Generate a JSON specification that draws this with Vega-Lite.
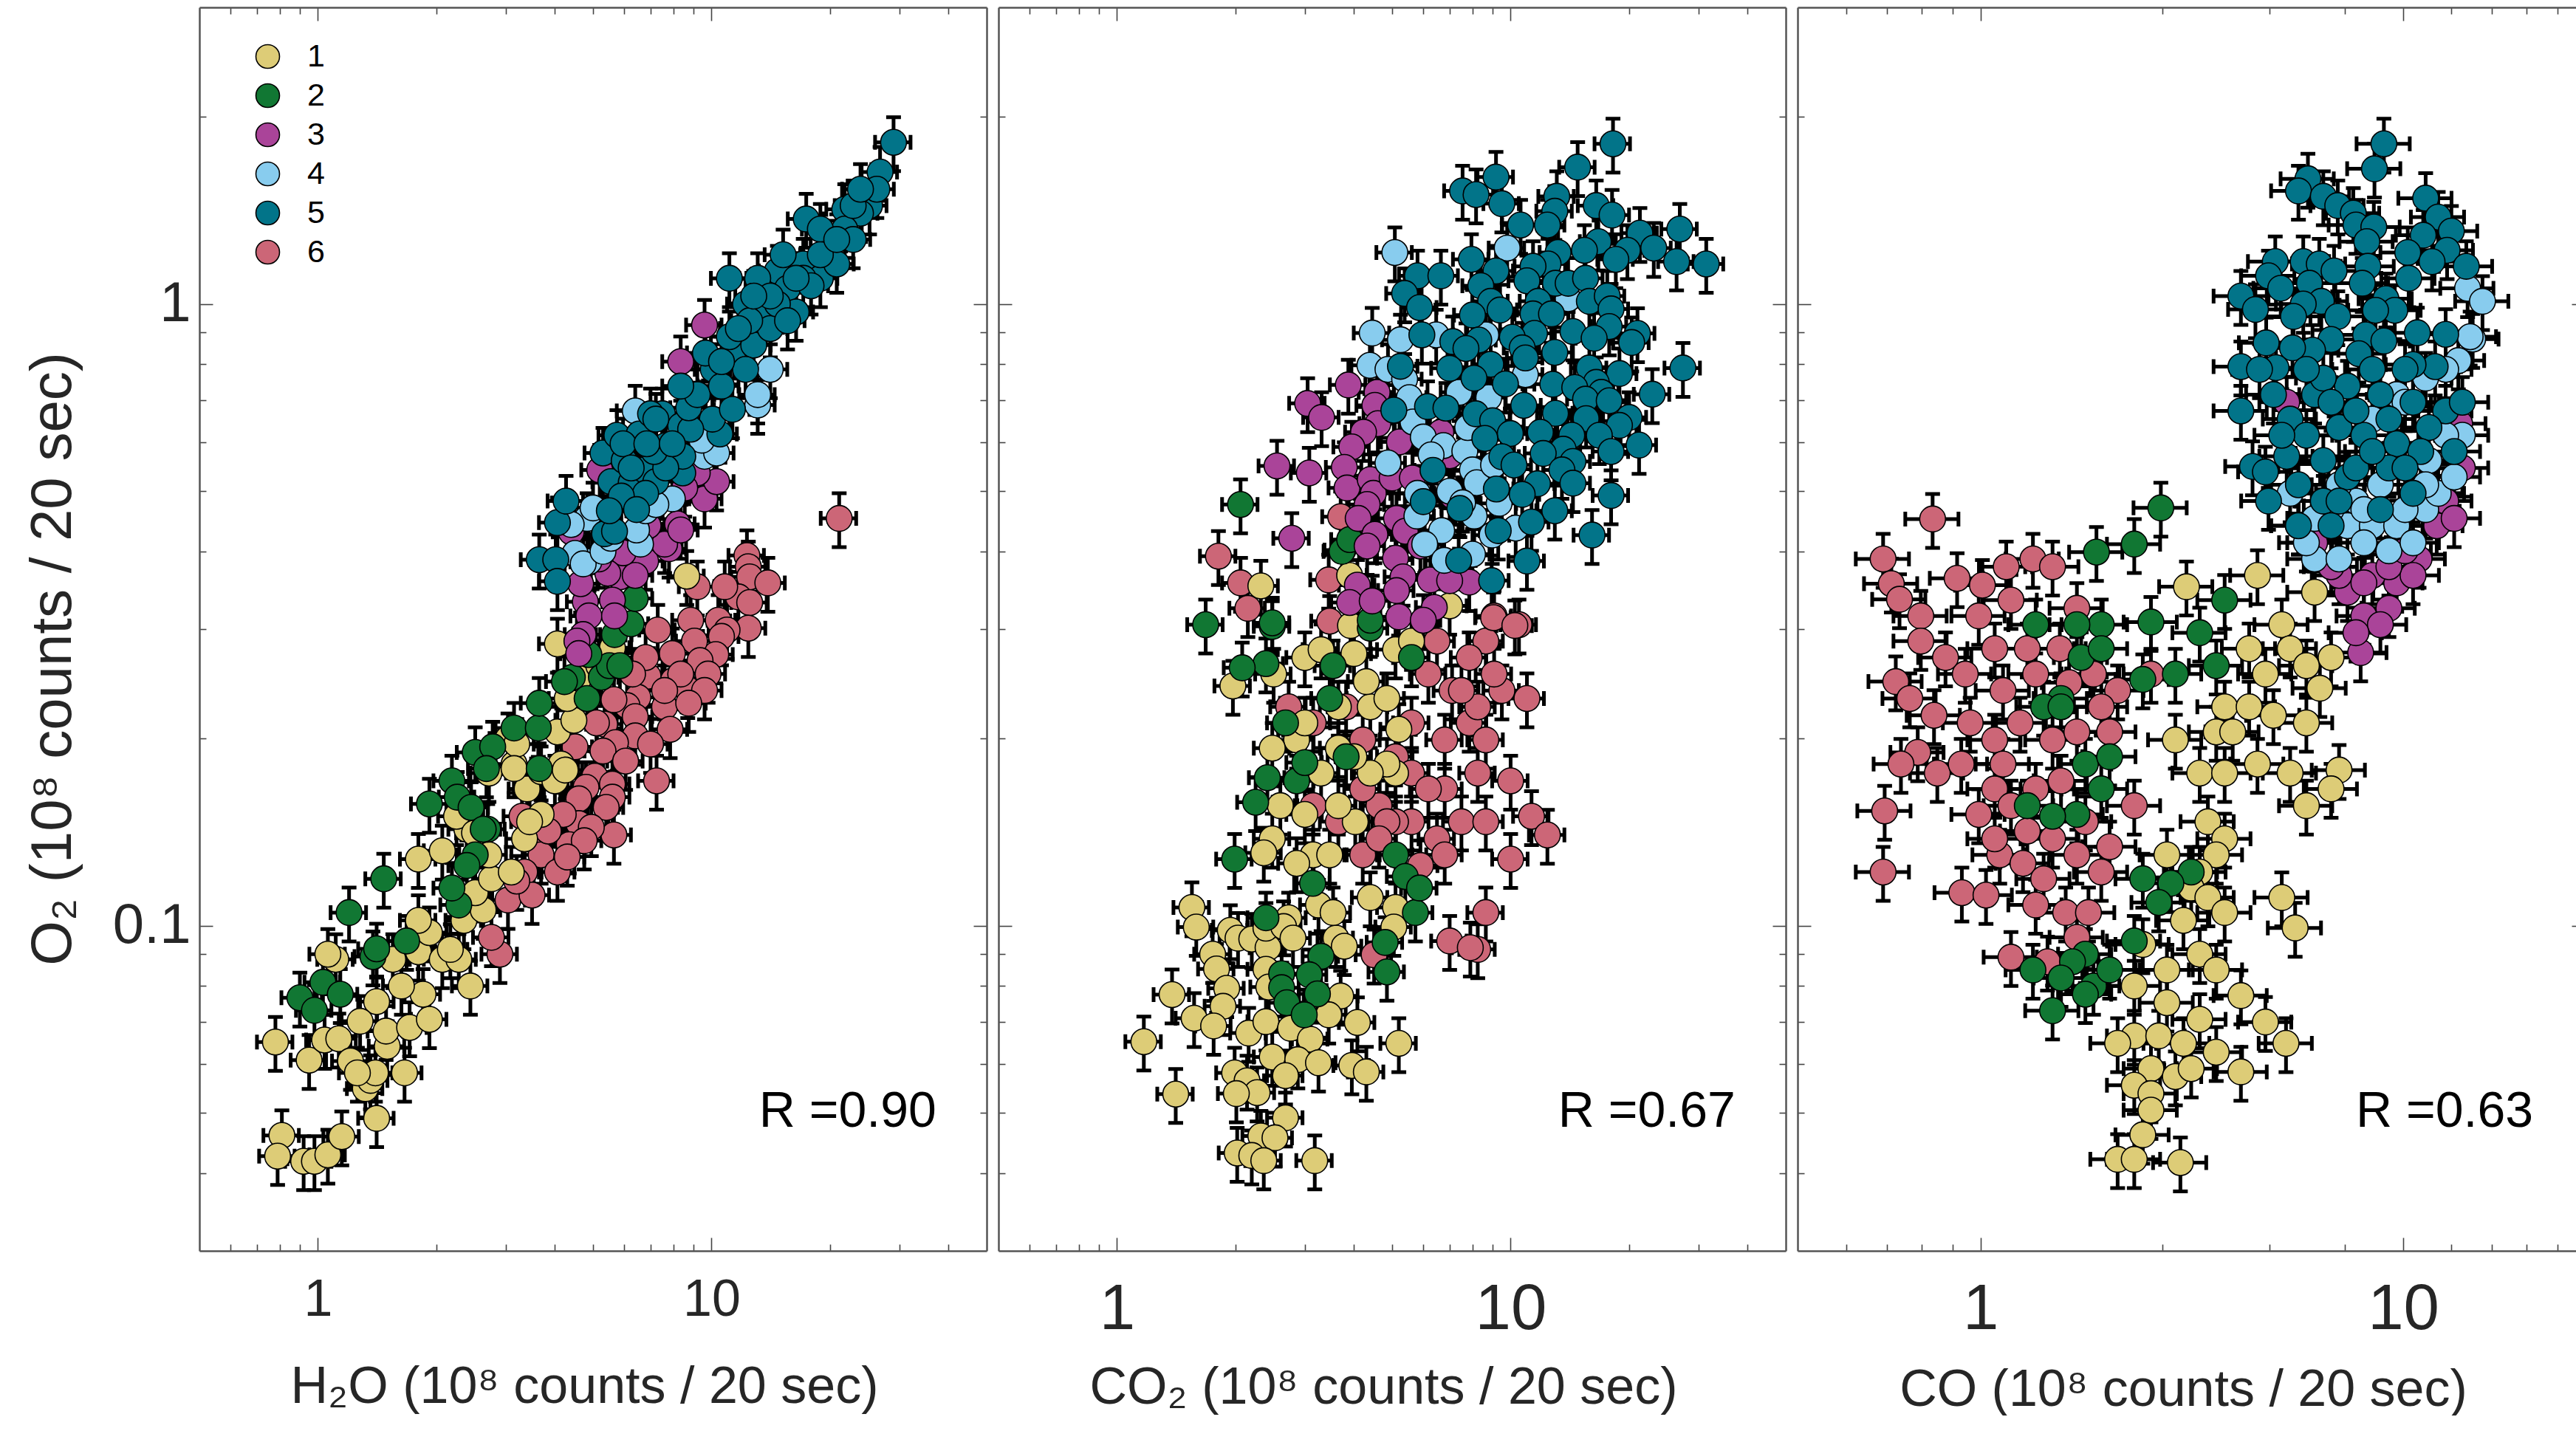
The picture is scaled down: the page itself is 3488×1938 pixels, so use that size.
{
"$schema":"https://vega.github.io/schema/vega-lite/v6.json",
"background":"white",
"padding":{"left":33,"top":9,"right":0,"bottom":0},
"bounds":"flush",
"spacing":16,
"resolve":{"scale":{"fill":"independent","x":"independent"},"legend":{"fill":"independent"}},
"config":{"view":{"stroke":null},"axis":{"grid":false,"domainColor":"#555555","domainWidth":2.5,"tickColor":"#444444","tickWidth":1.6,"labelFont":"Liberation Sans","titleFont":"Liberation Sans","labelColor":"#262626","titleColor":"#262626","titleFontWeight":"normal","labelOverlap":false,"labelBound":false,"labelFlush":false},"text":{"font":"Liberation Sans"}},
"datasets":{
"r1":[{"label":"R =0.90","x":13.2,"y":0.0475}],
"r2":[{"label":"R =0.67","x":13.2,"y":0.0475}],
"r3":[{"label":"R =0.63","x":7.73,"y":0.0475}],
"p1":[
{"g":6,"x":9.2,"y":0.351},{"g":6,"x":21.1,"y":0.452},{"g":6,"x":12.3,"y":0.394},{"g":6,"x":12.4,"y":0.378},{"g":6,"x":12.5,"y":0.364},{"g":6,"x":13.9,"y":0.356},{"g":6,"x":11.7,"y":0.338},{"g":6,"x":10.8,"y":0.351},{"g":6,"x":12.5,"y":0.331},{"g":6,"x":10.4,"y":0.31},{"g":6,"x":12.4,"y":0.301},{"g":6,"x":10.95,"y":0.299},{"g":6,"x":10.6,"y":0.292},{"g":6,"x":10.25,"y":0.273},{"g":6,"x":8.85,"y":0.31},{"g":6,"x":7.3,"y":0.299},{"g":6,"x":9.05,"y":0.287},{"g":6,"x":7.95,"y":0.274},{"g":6,"x":9.35,"y":0.267},{"g":6,"x":9.8,"y":0.254},{"g":6,"x":6.9,"y":0.252},{"g":6,"x":8,"y":0.248},{"g":6,"x":8.7,"y":0.24},{"g":6,"x":9.6,"y":0.239},{"g":6,"x":6.5,"y":0.233},{"g":6,"x":6.1,"y":0.226},{"g":6,"x":7.6,"y":0.225},{"g":6,"x":8.75,"y":0.228},{"g":6,"x":6.4,"y":0.217},{"g":6,"x":5.35,"y":0.211},{"g":6,"x":7.85,"y":0.207},{"g":6,"x":6.4,"y":0.202},{"g":6,"x":7,"y":0.196},{"g":6,"x":5.7,"y":0.197},{"g":6,"x":5.3,"y":0.191},{"g":6,"x":4.5,"y":0.194},{"g":6,"x":6.05,"y":0.184},{"g":6,"x":5.05,"y":0.174},{"g":6,"x":5.6,"y":0.169},{"g":6,"x":7.25,"y":0.171},{"g":6,"x":4.8,"y":0.167},{"g":6,"x":5.6,"y":0.161},{"g":6,"x":4.6,"y":0.16},{"g":6,"x":5.4,"y":0.155},{"g":6,"x":4.6,"y":0.146},{"g":6,"x":5.65,"y":0.14},{"g":6,"x":4.95,"y":0.144},{"g":6,"x":4.35,"y":0.135},{"g":6,"x":3.3,"y":0.15},{"g":6,"x":3.6,"y":0.139},{"g":6,"x":4.2,"y":0.151},{"g":6,"x":3.69,"y":0.13},{"g":6,"x":3.35,"y":0.122},{"g":6,"x":4.06,"y":0.122},{"g":6,"x":3.04,"y":0.11},{"g":6,"x":3.5,"y":0.112},{"g":6,"x":2.9,"y":0.09},{"g":6,"x":3.2,"y":0.118},{"g":6,"x":2.76,"y":0.0958},{"g":6,"x":3.85,"y":0.142},{"g":6,"x":4.75,"y":0.137},{"g":6,"x":4.3,"y":0.129},{"g":6,"x":6.8,"y":0.27},{"g":6,"x":6.3,"y":0.254},{"g":6,"x":5.65,"y":0.231},{"g":6,"x":5.1,"y":0.212},{"g":6,"x":8.35,"y":0.254},{"g":6,"x":7.6,"y":0.239},
{"g":1,"x":0.81,"y":0.046},{"g":1,"x":0.79,"y":0.0426},{"g":1,"x":0.92,"y":0.0418},{"g":1,"x":0.98,"y":0.0418},{"g":1,"x":1.06,"y":0.0428},{"g":1,"x":1.15,"y":0.0458},{"g":1,"x":1.41,"y":0.049},{"g":1,"x":1.32,"y":0.0547},{"g":1,"x":1.36,"y":0.0564},{"g":1,"x":1.4,"y":0.058},{"g":1,"x":1.5,"y":0.064},{"g":1,"x":1.66,"y":0.058},{"g":1,"x":0.95,"y":0.0608},{"g":1,"x":0.78,"y":0.065},{"g":1,"x":1.04,"y":0.0655},{"g":1,"x":1.13,"y":0.0658},{"g":1,"x":1.21,"y":0.0606},{"g":1,"x":1.26,"y":0.058},{"g":1,"x":1.49,"y":0.0677},{"g":1,"x":1.71,"y":0.0686},{"g":1,"x":1.92,"y":0.0707},{"g":1,"x":1.85,"y":0.0776},{"g":1,"x":1.63,"y":0.08},{"g":1,"x":1.41,"y":0.0755},{"g":1,"x":1.28,"y":0.0702},{"g":1,"x":1.11,"y":0.0883},{"g":1,"x":1.06,"y":0.09},{"g":1,"x":1.55,"y":0.0883},{"g":1,"x":1.8,"y":0.0908},{"g":1,"x":2.07,"y":0.0883},{"g":1,"x":2.28,"y":0.0883},{"g":1,"x":2.44,"y":0.08},{"g":1,"x":2.17,"y":0.0916},{"g":1,"x":1.92,"y":0.0975},{"g":1,"x":1.8,"y":0.102},{"g":1,"x":2.35,"y":0.102},{"g":1,"x":2.63,"y":0.106},{"g":1,"x":2.51,"y":0.113},{"g":1,"x":1.8,"y":0.128},{"g":1,"x":2.07,"y":0.132},{"g":1,"x":2.76,"y":0.119},{"g":1,"x":3.1,"y":0.122},{"g":1,"x":2.72,"y":0.13},{"g":1,"x":2.39,"y":0.143},{"g":1,"x":3.35,"y":0.138},{"g":1,"x":3.69,"y":0.151},{"g":1,"x":3.4,"y":0.166},{"g":1,"x":3.15,"y":0.182},{"g":1,"x":3.69,"y":0.177},{"g":1,"x":4.15,"y":0.182},{"g":1,"x":4.06,"y":0.205},{"g":1,"x":4.47,"y":0.214},{"g":1,"x":4.3,"y":0.232},{"g":1,"x":4.6,"y":0.25},{"g":1,"x":5.17,"y":0.262},{"g":1,"x":5.6,"y":0.28},{"g":1,"x":4.06,"y":0.284},{"g":1,"x":8.65,"y":0.365},{"g":1,"x":3.04,"y":0.2},{"g":1,"x":2.72,"y":0.176},{"g":1,"x":3.2,"y":0.196},{"g":1,"x":3.15,"y":0.179},{"g":1,"x":4.0,"y":0.171},{"g":1,"x":4.25,"y":0.178},{"g":1,"x":2.25,"y":0.15},{"g":1,"x":2.5,"y":0.141},{"g":1,"x":3.45,"y":0.147},
{"g":2,"x":1.2,"y":0.105},{"g":2,"x":1.47,"y":0.119},{"g":2,"x":0.9,"y":0.0766},{"g":2,"x":0.98,"y":0.0731},{"g":2,"x":1.03,"y":0.0811},{"g":2,"x":1.14,"y":0.0776},{"g":2,"x":1.38,"y":0.0892},{"g":2,"x":1.41,"y":0.0918},{"g":2,"x":1.68,"y":0.0945},{"g":2,"x":2.19,"y":0.171},{"g":2,"x":2.26,"y":0.161},{"g":2,"x":2.45,"y":0.155},{"g":2,"x":2.7,"y":0.143},{"g":2,"x":2.51,"y":0.19},{"g":2,"x":2.78,"y":0.194},{"g":2,"x":2.68,"y":0.179},{"g":2,"x":1.92,"y":0.157},{"g":2,"x":3.15,"y":0.208},{"g":2,"x":3.63,"y":0.208},{"g":2,"x":3.65,"y":0.228},{"g":2,"x":3.65,"y":0.179},{"g":2,"x":4.43,"y":0.251},{"g":2,"x":4.23,"y":0.247},{"g":2,"x":4.83,"y":0.232},{"g":2,"x":5.25,"y":0.251},{"g":2,"x":5.5,"y":0.262},{"g":2,"x":5.85,"y":0.262},{"g":2,"x":4.88,"y":0.273},{"g":2,"x":5.67,"y":0.294},{"g":2,"x":6.25,"y":0.306},{"g":2,"x":6.4,"y":0.336},{"g":2,"x":2.28,"y":0.108},{"g":2,"x":2.19,"y":0.115},{"g":2,"x":2.51,"y":0.13},{"g":2,"x":2.39,"y":0.125},{"g":2,"x":2.63,"y":0.143},
{"g":3,"x":5.85,"y":0.364},{"g":3,"x":4.78,"y":0.332},{"g":3,"x":5.6,"y":0.334},{"g":3,"x":4.88,"y":0.315},{"g":3,"x":5.67,"y":0.315},{"g":3,"x":4.72,"y":0.294},{"g":3,"x":4.55,"y":0.287},{"g":3,"x":4.6,"y":0.274},{"g":3,"x":4.65,"y":0.355},{"g":3,"x":6.8,"y":0.386},{"g":3,"x":7.8,"y":0.404},{"g":3,"x":7.6,"y":0.411},{"g":3,"x":8.2,"y":0.443},{"g":3,"x":8.35,"y":0.433},{"g":3,"x":9.6,"y":0.486},{"g":3,"x":10.3,"y":0.518},{"g":3,"x":5.2,"y":0.541},{"g":3,"x":6.4,"y":0.366},{"g":3,"x":5.96,"y":0.398},{"g":3,"x":5.45,"y":0.369},{"g":3,"x":4.4,"y":0.43},{"g":3,"x":9.2,"y":0.535},{"g":3,"x":8.55,"y":0.506},{"g":3,"x":9.6,"y":0.925},{"g":3,"x":8.35,"y":0.808},{"g":3,"x":5.17,"y":0.389},{"g":3,"x":6.9,"y":0.44},
{"g":4,"x":4.88,"y":0.385},{"g":4,"x":4.5,"y":0.397},{"g":4,"x":4.72,"y":0.382},{"g":4,"x":5.3,"y":0.4},{"g":4,"x":6.6,"y":0.411},{"g":4,"x":6.45,"y":0.433},{"g":4,"x":4.83,"y":0.452},{"g":4,"x":4.4,"y":0.442},{"g":4,"x":7.95,"y":0.486},{"g":4,"x":5,"y":0.47},{"g":4,"x":5.55,"y":0.42},{"g":4,"x":9.6,"y":0.569},{"g":4,"x":10.3,"y":0.576},{"g":4,"x":9.45,"y":0.604},{"g":4,"x":13.1,"y":0.688},{"g":4,"x":6.8,"y":0.465},{"g":4,"x":7.22,"y":0.476},{"g":4,"x":6.4,"y":0.673},{"g":4,"x":14.1,"y":0.785},{"g":4,"x":13.1,"y":0.715},
{"g":5,"x":3.65,"y":0.388},{"g":5,"x":4.02,"y":0.388},{"g":5,"x":4.06,"y":0.358},{"g":5,"x":4.06,"y":0.445},{"g":5,"x":4.27,"y":0.482},{"g":5,"x":5.35,"y":0.427},{"g":5,"x":5.67,"y":0.431},{"g":5,"x":5.3,"y":0.576},{"g":5,"x":5.75,"y":0.615},{"g":5,"x":6.55,"y":0.618},{"g":5,"x":7.5,"y":0.666},{"g":5,"x":5.55,"y":0.518},{"g":5,"x":6.25,"y":0.516},{"g":5,"x":6,"y":0.56},{"g":5,"x":6.75,"y":0.541},{"g":5,"x":7.65,"y":0.592},{"g":5,"x":8.35,"y":0.637},{"g":5,"x":10.5,"y":0.618},{"g":5,"x":10.05,"y":0.653},{"g":5,"x":8.45,"y":0.535},{"g":5,"x":7.22,"y":0.518},{"g":5,"x":6.8,"y":0.496},{"g":5,"x":5.9,"y":0.491},{"g":5,"x":5.5,"y":0.465},{"g":5,"x":6.45,"y":0.467},{"g":5,"x":8.85,"y":0.629},{"g":5,"x":8.45,"y":0.569},{"g":5,"x":7.65,"y":0.545},{"g":5,"x":7.15,"y":0.579},{"g":5,"x":7,"y":0.666},{"g":5,"x":8.75,"y":0.681},{"g":5,"x":11.3,"y":0.677},{"g":5,"x":11.1,"y":1.1},{"g":5,"x":17.4,"y":1.37},{"g":5,"x":21.8,"y":1.42},{"g":5,"x":25.2,"y":1.44},{"g":5,"x":29,"y":1.82},{"g":5,"x":26.8,"y":1.63},{"g":5,"x":26.3,"y":1.53},{"g":5,"x":23.9,"y":1.4},{"g":5,"x":19.9,"y":1.24},{"g":5,"x":17.1,"y":1.16},{"g":5,"x":14.7,"y":1.13},{"g":5,"x":12.2,"y":1},{"g":5,"x":13.3,"y":0.971},{"g":5,"x":15.6,"y":1.06},{"g":5,"x":18.9,"y":1.1},{"g":5,"x":20.8,"y":1.16},{"g":5,"x":11.4,"y":0.844},{"g":5,"x":10.1,"y":0.785},{"g":5,"x":12.8,"y":0.859},{"g":5,"x":14.1,"y":0.913},{"g":5,"x":16.4,"y":0.971},{"g":5,"x":11.1,"y":0.886},{"g":5,"x":9.2,"y":0.715},{"g":5,"x":10.6,"y":0.738},{"g":5,"x":12.2,"y":0.785},{"g":5,"x":21.8,"y":1.32},{"g":5,"x":22.9,"y":1.27},{"g":5,"x":18.9,"y":1.32},{"g":5,"x":17.1,"y":1.1},{"g":5,"x":15.2,"y":1.2},{"g":5,"x":13.1,"y":1.1},{"g":5,"x":14.7,"y":1},{"g":5,"x":17.9,"y":1.07},{"g":5,"x":12.5,"y":0.94},{"g":5,"x":9.65,"y":0.834},{"g":5,"x":8.35,"y":0.738},{"g":5,"x":7.22,"y":0.653},{"g":5,"x":14.1,"y":1.03},{"g":5,"x":16.4,"y":1.1},{"g":5,"x":18.9,"y":1.2},{"g":5,"x":20.8,"y":1.27},{"g":5,"x":11.7,"y":0.913},{"g":5,"x":12.8,"y":1.03},{"g":5,"x":15.6,"y":0.94},{"g":5,"x":10.6,"y":0.808},{"g":5,"x":22.9,"y":1.44},{"g":5,"x":23.9,"y":1.53},{"g":5,"x":5.96,"y":0.596},{"g":5,"x":6.85,"y":0.596},{"g":5,"x":7.95,"y":0.596},{"g":5,"x":6.25,"y":0.545}
],
"p2":[
{"g":6,"x":1.81,"y":0.393},{"g":6,"x":2.06,"y":0.356},{"g":6,"x":2.15,"y":0.324},{"g":6,"x":2.73,"y":0.225},{"g":6,"x":3.15,"y":0.212},{"g":6,"x":3.82,"y":0.225},{"g":6,"x":4.21,"y":0.199},{"g":6,"x":3.15,"y":0.156},{"g":6,"x":3.65,"y":0.147},{"g":6,"x":4.63,"y":0.156},{"g":6,"x":5.6,"y":0.147},{"g":6,"x":6.8,"y":0.166},{"g":6,"x":8.25,"y":0.176},{"g":6,"x":7.85,"y":0.212},{"g":6,"x":9.5,"y":0.239},{"g":6,"x":8.65,"y":0.287},{"g":6,"x":10.5,"y":0.305},{"g":6,"x":9.08,"y":0.315},{"g":6,"x":7.1,"y":0.239},{"g":6,"x":11,"y":0.232},{"g":6,"x":10,"y":0.171},{"g":6,"x":11.3,"y":0.15},{"g":6,"x":12.4,"y":0.14},{"g":6,"x":10,"y":0.128},{"g":6,"x":8.65,"y":0.105},{"g":6,"x":7,"y":0.0945},{"g":6,"x":8.25,"y":0.0916},{"g":6,"x":6.18,"y":0.254},{"g":6,"x":5.1,"y":0.187},{"g":6,"x":4.21,"y":0.13},{"g":6,"x":6.5,"y":0.138},{"g":6,"x":5.6,"y":0.176},{"g":6,"x":7.85,"y":0.27},{"g":6,"x":9.08,"y":0.254},{"g":6,"x":4.21,"y":0.166},{"g":6,"x":7.9,"y":0.0922},{"g":6,"x":3.45,"y":0.36},{"g":6,"x":3.7,"y":0.455},{"g":6,"x":9.05,"y":0.313},{"g":6,"x":10.25,"y":0.304},{"g":6,"x":3.47,"y":0.309},{"g":6,"x":4.5,"y":0.0898},{"g":6,"x":5.1,"y":0.147},{"g":6,"x":6.18,"y":0.166},{"g":6,"x":7.5,"y":0.147},{"g":6,"x":5.6,"y":0.212},{"g":6,"x":6.8,"y":0.199},{"g":6,"x":8.25,"y":0.225},{"g":6,"x":6.5,"y":0.287},{"g":6,"x":4.85,"y":0.147},{"g":6,"x":6.8,"y":0.13},{"g":6,"x":5.9,"y":0.125},{"g":6,"x":4.63,"y":0.138},{"g":6,"x":8.65,"y":0.147},{"g":6,"x":7.5,"y":0.239},{"g":6,"x":8.65,"y":0.199},
{"g":1,"x":1.55,"y":0.107},{"g":1,"x":1.59,"y":0.0995},{"g":1,"x":1.94,"y":0.0983},{"g":1,"x":2.03,"y":0.0955},{"g":1,"x":2.2,"y":0.0952},{"g":1,"x":1.75,"y":0.09},{"g":1,"x":1.79,"y":0.0852},{"g":1,"x":1.9,"y":0.0793},{"g":1,"x":1.38,"y":0.0775},{"g":1,"x":2.42,"y":0.0922},{"g":1,"x":2.39,"y":0.0991},{"g":1,"x":2.73,"y":0.103},{"g":1,"x":2.65,"y":0.0997},{"g":1,"x":2.8,"y":0.0955},{"g":1,"x":3.6,"y":0.0955},{"g":1,"x":3.78,"y":0.0927},{"g":1,"x":3.25,"y":0.108},{"g":1,"x":3.54,"y":0.105},{"g":1,"x":2.39,"y":0.0851},{"g":1,"x":2.43,"y":0.0797},{"g":1,"x":3.7,"y":0.0771},{"g":1,"x":3.45,"y":0.0719},{"g":1,"x":4.08,"y":0.0699},{"g":1,"x":1.86,"y":0.0742},{"g":1,"x":1.57,"y":0.071},{"g":1,"x":1.76,"y":0.069},{"g":1,"x":2.16,"y":0.0672},{"g":1,"x":2.39,"y":0.0701},{"g":1,"x":2.76,"y":0.0684},{"g":1,"x":3.1,"y":0.0657},{"g":1,"x":1.17,"y":0.0651},{"g":1,"x":2.48,"y":0.0615},{"g":1,"x":2.88,"y":0.0609},{"g":1,"x":3.25,"y":0.0602},{"g":1,"x":5.2,"y":0.0647},{"g":1,"x":1.99,"y":0.058},{"g":1,"x":2.14,"y":0.0563},{"g":1,"x":2.27,"y":0.0539},{"g":1,"x":2.01,"y":0.0537},{"g":1,"x":2.68,"y":0.0574},{"g":1,"x":3.95,"y":0.0596},{"g":1,"x":4.3,"y":0.0582},{"g":1,"x":1.41,"y":0.0536},{"g":1,"x":2.68,"y":0.0491},{"g":1,"x":2.32,"y":0.0459},{"g":1,"x":2.52,"y":0.0456},{"g":1,"x":2.02,"y":0.0431},{"g":1,"x":2.2,"y":0.0427},{"g":1,"x":2.36,"y":0.0419},{"g":1,"x":3.18,"y":0.0419},{"g":1,"x":5.1,"y":0.107},{"g":1,"x":5.05,"y":0.0995},{"g":1,"x":2.32,"y":0.352},{"g":1,"x":3.9,"y":0.366},{"g":1,"x":7,"y":0.327},{"g":1,"x":3.92,"y":0.304},{"g":1,"x":1.97,"y":0.243},{"g":1,"x":2.5,"y":0.254},{"g":1,"x":3,"y":0.27},{"g":1,"x":3.3,"y":0.278},{"g":1,"x":4,"y":0.274},{"g":1,"x":3.65,"y":0.225},{"g":1,"x":2.86,"y":0.199},{"g":1,"x":2.6,"y":0.156},{"g":1,"x":2.48,"y":0.138},{"g":1,"x":3,"y":0.151},{"g":1,"x":3.15,"y":0.13},{"g":1,"x":2.36,"y":0.131},{"g":1,"x":2.86,"y":0.126},{"g":1,"x":3.47,"y":0.13},{"g":1,"x":4.4,"y":0.225},{"g":1,"x":5.1,"y":0.176},{"g":1,"x":4.85,"y":0.232},{"g":1,"x":5.1,"y":0.278},{"g":1,"x":5.6,"y":0.287},{"g":1,"x":4.85,"y":0.182},{"g":1,"x":4.4,"y":0.176},{"g":1,"x":3.65,"y":0.193},{"g":1,"x":4.3,"y":0.247},{"g":1,"x":2.48,"y":0.193},{"g":1,"x":5.2,"y":0.207},{"g":1,"x":4.03,"y":0.147},{"g":1,"x":4.4,"y":0.111},{"g":1,"x":3.3,"y":0.176},{"g":1,"x":4,"y":0.187},{"g":1,"x":3.65,"y":0.156},{"g":1,"x":3,"y":0.212},
{"g":2,"x":2.06,"y":0.476},{"g":2,"x":1.68,"y":0.305},{"g":2,"x":2.48,"y":0.303},{"g":2,"x":2.39,"y":0.264},{"g":2,"x":2.08,"y":0.26},{"g":2,"x":2.68,"y":0.212},{"g":2,"x":2.41,"y":0.173},{"g":2,"x":2.25,"y":0.158},{"g":2,"x":1.99,"y":0.128},{"g":2,"x":2.39,"y":0.103},{"g":2,"x":2.86,"y":0.171},{"g":2,"x":3,"y":0.183},{"g":2,"x":3.82,"y":0.187},{"g":2,"x":3.47,"y":0.232},{"g":2,"x":3.54,"y":0.262},{"g":2,"x":3.75,"y":0.402},{"g":2,"x":3.73,"y":0.4},{"g":2,"x":3.9,"y":0.418},{"g":2,"x":4.4,"y":0.301},{"g":2,"x":2.48,"y":0.307},{"g":2,"x":4.4,"y":0.31},{"g":2,"x":5.6,"y":0.27},{"g":2,"x":5.1,"y":0.13},{"g":2,"x":5.4,"y":0.12},{"g":2,"x":4.85,"y":0.0843},{"g":2,"x":4.8,"y":0.094},{"g":2,"x":3.3,"y":0.0893},{"g":2,"x":2.62,"y":0.0837},{"g":2,"x":3.08,"y":0.0834},{"g":2,"x":2.62,"y":0.0795},{"g":2,"x":3.23,"y":0.0777},{"g":2,"x":2.7,"y":0.0752},{"g":2,"x":2.99,"y":0.0719},{"g":2,"x":5.73,"y":0.105},{"g":2,"x":5.87,"y":0.115},{"g":2,"x":3.14,"y":0.117},
{"g":3,"x":2.55,"y":0.549},{"g":3,"x":3.08,"y":0.535},{"g":3,"x":3.05,"y":0.692},{"g":3,"x":3.31,"y":0.657},{"g":3,"x":3.87,"y":0.741},{"g":3,"x":4.58,"y":0.721},{"g":3,"x":4.52,"y":0.687},{"g":3,"x":4.6,"y":0.642},{"g":3,"x":4.23,"y":0.622},{"g":3,"x":3.95,"y":0.589},{"g":3,"x":3.78,"y":0.546},{"g":3,"x":3.84,"y":0.506},{"g":3,"x":4.4,"y":0.522},{"g":3,"x":4.48,"y":0.496},{"g":3,"x":4.32,"y":0.476},{"g":3,"x":4.1,"y":0.452},{"g":3,"x":4.52,"y":0.426},{"g":3,"x":4.32,"y":0.408},{"g":3,"x":2.78,"y":0.42},{"g":3,"x":5.22,"y":0.6},{"g":3,"x":5,"y":0.525},{"g":3,"x":5.63,"y":0.525},{"g":3,"x":6.65,"y":0.622},{"g":3,"x":5.13,"y":0.452},{"g":3,"x":5.4,"y":0.431},{"g":3,"x":5.9,"y":0.408},{"g":3,"x":5.1,"y":0.39},{"g":3,"x":5.33,"y":0.364},{"g":3,"x":5.13,"y":0.346},{"g":3,"x":6.25,"y":0.36},{"g":3,"x":7.85,"y":0.357},{"g":3,"x":7,"y":0.359},{"g":3,"x":4.08,"y":0.353},{"g":3,"x":3.9,"y":0.331},{"g":3,"x":4.45,"y":0.333},{"g":3,"x":6.4,"y":0.325},{"g":3,"x":5.2,"y":0.314},{"g":3,"x":6,"y":0.31},{"g":3,"x":7.13,"y":0.491},{"g":3,"x":7,"y":0.57},
{"g":4,"x":5.08,"y":1.21},{"g":4,"x":9.8,"y":1.23},{"g":4,"x":14,"y":1.02},{"g":4,"x":4.45,"y":0.898},{"g":4,"x":5.25,"y":0.876},{"g":4,"x":4.39,"y":0.797},{"g":4,"x":4.88,"y":0.785},{"g":4,"x":5.38,"y":0.757},{"g":4,"x":6.47,"y":0.892},{"g":4,"x":8.65,"y":0.892},{"g":4,"x":7.4,"y":0.721},{"g":4,"x":8.8,"y":0.707},{"g":4,"x":10.9,"y":0.77},{"g":4,"x":5.53,"y":0.707},{"g":4,"x":5.65,"y":0.646},{"g":4,"x":6,"y":0.611},{"g":4,"x":6.75,"y":0.592},{"g":4,"x":7.65,"y":0.58},{"g":4,"x":7.78,"y":0.633},{"g":4,"x":6.28,"y":0.572},{"g":4,"x":4.88,"y":0.555},{"g":4,"x":8,"y":0.541},{"g":4,"x":8.2,"y":0.516},{"g":4,"x":7,"y":0.5},{"g":4,"x":5.8,"y":0.496},{"g":4,"x":5.78,"y":0.456},{"g":4,"x":8.08,"y":0.456},{"g":4,"x":7.55,"y":0.479},{"g":4,"x":6.68,"y":0.432},{"g":4,"x":6.05,"y":0.411},{"g":4,"x":6.78,"y":0.387},{"g":4,"x":8,"y":0.396},{"g":4,"x":8.98,"y":0.425},{"g":4,"x":10.3,"y":0.436},{"g":4,"x":9.35,"y":0.478},{"g":4,"x":9.05,"y":0.551},
{"g":5,"x":18.2,"y":1.81},{"g":5,"x":14.8,"y":1.66},{"g":5,"x":9.18,"y":1.6},{"g":5,"x":7.55,"y":1.52},{"g":5,"x":8.17,"y":1.5},{"g":5,"x":9.5,"y":1.45},{"g":5,"x":13.1,"y":1.49},{"g":5,"x":12.95,"y":1.41},{"g":5,"x":16.5,"y":1.44},{"g":5,"x":18.1,"y":1.39},{"g":5,"x":10.6,"y":1.34},{"g":5,"x":12.4,"y":1.34},{"g":5,"x":16.7,"y":1.26},{"g":5,"x":21.3,"y":1.3},{"g":5,"x":19.8,"y":1.22},{"g":5,"x":23.1,"y":1.23},{"g":5,"x":26.9,"y":1.32},{"g":5,"x":26.4,"y":1.17},{"g":5,"x":31.4,"y":1.16},{"g":5,"x":18.5,"y":1.18},{"g":5,"x":15.4,"y":1.22},{"g":5,"x":13.2,"y":1.21},{"g":5,"x":12.45,"y":1.16},{"g":5,"x":11.4,"y":1.15},{"g":5,"x":7.95,"y":1.18},{"g":5,"x":9.18,"y":1.13},{"g":5,"x":11,"y":1.09},{"g":5,"x":13,"y":1.08},{"g":5,"x":14,"y":1.08},{"g":5,"x":15.5,"y":1.1},{"g":5,"x":5.8,"y":1.11},{"g":5,"x":6.65,"y":1.11},{"g":5,"x":5.38,"y":1.04},{"g":5,"x":5.87,"y":0.987},{"g":5,"x":8.4,"y":1.07},{"g":5,"x":8.9,"y":1.01},{"g":5,"x":9.4,"y":0.978},{"g":5,"x":8,"y":0.96},{"g":5,"x":11.75,"y":1.01},{"g":5,"x":11.4,"y":0.964},{"g":5,"x":12.7,"y":0.964},{"g":5,"x":15.85,"y":1.01},{"g":5,"x":17.6,"y":1.03},{"g":5,"x":18,"y":0.982},{"g":5,"x":17.8,"y":0.92},{"g":5,"x":14.4,"y":0.903},{"g":5,"x":16.3,"y":0.881},{"g":5,"x":21,"y":0.897},{"g":5,"x":20.3,"y":0.867},{"g":5,"x":5.95,"y":0.892},{"g":5,"x":11.5,"y":0.897},{"g":5,"x":10.1,"y":0.884},{"g":5,"x":8.3,"y":0.875},{"g":5,"x":7.13,"y":0.87},{"g":5,"x":7.7,"y":0.848},{"g":5,"x":12.95,"y":0.836},{"g":5,"x":10.7,"y":0.85},{"g":5,"x":27.4,"y":0.789},{"g":5,"x":15.85,"y":0.789},{"g":5,"x":18.9,"y":0.773},{"g":5,"x":16.5,"y":0.748},{"g":5,"x":22.9,"y":0.716},{"g":5,"x":17,"y":0.721},{"g":5,"x":7,"y":0.788},{"g":5,"x":8.9,"y":0.8},{"g":5,"x":10.9,"y":0.819},{"g":5,"x":5.25,"y":0.794},{"g":5,"x":8.07,"y":0.76},{"g":5,"x":9.7,"y":0.744},{"g":5,"x":12.8,"y":0.743},{"g":5,"x":14.55,"y":0.734},{"g":5,"x":15.5,"y":0.703},{"g":5,"x":17.8,"y":0.699},{"g":5,"x":10.8,"y":0.687},{"g":5,"x":5.05,"y":0.675},{"g":5,"x":6.15,"y":0.684},{"g":5,"x":6.85,"y":0.68},{"g":5,"x":8.15,"y":0.666},{"g":5,"x":13,"y":0.667},{"g":5,"x":9,"y":0.649},{"g":5,"x":15.55,"y":0.654},{"g":5,"x":20,"y":0.657},{"g":5,"x":18.9,"y":0.638},{"g":5,"x":9.98,"y":0.619},{"g":5,"x":11.9,"y":0.622},{"g":5,"x":8.6,"y":0.608},{"g":5,"x":14.3,"y":0.615},{"g":5,"x":16.8,"y":0.615},{"g":5,"x":21.2,"y":0.593},{"g":5,"x":18,"y":0.579},{"g":5,"x":13.6,"y":0.584},{"g":5,"x":12.1,"y":0.575},{"g":5,"x":9.5,"y":0.568},{"g":5,"x":10.2,"y":0.551},{"g":5,"x":14.4,"y":0.558},{"g":5,"x":13.5,"y":0.541},{"g":5,"x":6.35,"y":0.54},{"g":5,"x":14.4,"y":0.515},{"g":5,"x":11.7,"y":0.514},{"g":5,"x":10.7,"y":0.494},{"g":5,"x":9.2,"y":0.504},{"g":5,"x":18,"y":0.492},{"g":5,"x":12.95,"y":0.465},{"g":5,"x":6,"y":0.481},{"g":5,"x":7.43,"y":0.469},{"g":5,"x":11.3,"y":0.446},{"g":5,"x":9.3,"y":0.432},{"g":5,"x":16.1,"y":0.425},{"g":5,"x":7.38,"y":0.387},{"g":5,"x":11,"y":0.386},{"g":5,"x":8.95,"y":0.359}
],
"p3":[
{"g":6,"x":0.77,"y":0.451},{"g":6,"x":0.588,"y":0.389},{"g":6,"x":0.615,"y":0.355},{"g":6,"x":0.643,"y":0.335},{"g":6,"x":0.722,"y":0.315},{"g":6,"x":0.88,"y":0.362},{"g":6,"x":1.01,"y":0.353},{"g":6,"x":1.15,"y":0.378},{"g":6,"x":1.33,"y":0.389},{"g":6,"x":1.48,"y":0.378},{"g":6,"x":1.69,"y":0.324},{"g":6,"x":1.18,"y":0.334},{"g":6,"x":0.99,"y":0.315},{"g":6,"x":0.826,"y":0.27},{"g":6,"x":0.722,"y":0.287},{"g":6,"x":0.63,"y":0.247},{"g":6,"x":0.68,"y":0.232},{"g":6,"x":0.776,"y":0.218},{"g":6,"x":0.92,"y":0.254},{"g":6,"x":1.08,"y":0.279},{"g":6,"x":1.29,"y":0.279},{"g":6,"x":1.54,"y":0.279},{"g":6,"x":1.85,"y":0.254},{"g":6,"x":2.11,"y":0.239},{"g":6,"x":2.53,"y":0.254},{"g":6,"x":1.13,"y":0.239},{"g":6,"x":1.35,"y":0.254},{"g":6,"x":1.62,"y":0.246},{"g":6,"x":1.93,"y":0.225},{"g":6,"x":0.945,"y":0.212},{"g":6,"x":1.08,"y":0.199},{"g":6,"x":1.24,"y":0.212},{"g":6,"x":1.48,"y":0.199},{"g":6,"x":1.69,"y":0.205},{"g":6,"x":2.02,"y":0.205},{"g":6,"x":0.71,"y":0.19},{"g":6,"x":0.648,"y":0.182},{"g":6,"x":0.79,"y":0.176},{"g":6,"x":0.593,"y":0.153},{"g":6,"x":0.588,"y":0.122},{"g":6,"x":0.903,"y":0.113},{"g":6,"x":1.03,"y":0.112},{"g":6,"x":1.11,"y":0.13},{"g":6,"x":1.26,"y":0.126},{"g":6,"x":1.41,"y":0.119},{"g":6,"x":1.59,"y":0.105},{"g":6,"x":1.18,"y":0.089},{"g":6,"x":0.99,"y":0.151},{"g":6,"x":1.08,"y":0.166},{"g":6,"x":1.18,"y":0.156},{"g":6,"x":1.35,"y":0.166},{"g":6,"x":1.55,"y":0.171},{"g":6,"x":1.77,"y":0.147},{"g":6,"x":2.02,"y":0.134},{"g":6,"x":2.31,"y":0.156},{"g":6,"x":1.08,"y":0.138},{"g":6,"x":1.29,"y":0.142},{"g":6,"x":1.48,"y":0.138},{"g":6,"x":1.69,"y":0.13},{"g":6,"x":1.93,"y":0.122},{"g":6,"x":1.44,"y":0.0875},{"g":6,"x":1.69,"y":0.0958},{"g":6,"x":1.35,"y":0.108},{"g":6,"x":1.8,"y":0.105},{"g":6,"x":0.9,"y":0.182},{"g":6,"x":1.13,"y":0.182},
{"g":1,"x":3.07,"y":0.351},{"g":1,"x":4.52,"y":0.366},{"g":1,"x":5.16,"y":0.305},{"g":1,"x":6.17,"y":0.344},{"g":1,"x":5.4,"y":0.279},{"g":1,"x":5.9,"y":0.262},{"g":1,"x":6.35,"y":0.241},{"g":1,"x":6.75,"y":0.27},{"g":1,"x":4.32,"y":0.279},{"g":1,"x":4.72,"y":0.254},{"g":1,"x":3.78,"y":0.225},{"g":1,"x":4.32,"y":0.225},{"g":1,"x":4.93,"y":0.218},{"g":1,"x":5.9,"y":0.212},{"g":1,"x":3.61,"y":0.205},{"g":1,"x":2.89,"y":0.199},{"g":1,"x":3.3,"y":0.176},{"g":1,"x":3.78,"y":0.176},{"g":1,"x":4.52,"y":0.182},{"g":1,"x":5.4,"y":0.176},{"g":1,"x":5.9,"y":0.156},{"g":1,"x":7.05,"y":0.178},{"g":1,"x":6.75,"y":0.166},{"g":1,"x":3.45,"y":0.147},{"g":1,"x":3.78,"y":0.138},{"g":1,"x":3.61,"y":0.13},{"g":1,"x":3.3,"y":0.122},{"g":1,"x":3.15,"y":0.115},{"g":1,"x":2.76,"y":0.13},{"g":1,"x":3.45,"y":0.111},{"g":1,"x":3.78,"y":0.105},{"g":1,"x":5.16,"y":0.111},{"g":1,"x":5.55,"y":0.0992},{"g":1,"x":3.02,"y":0.102},{"g":1,"x":2.42,"y":0.0933},{"g":1,"x":3.3,"y":0.09},{"g":1,"x":3.61,"y":0.0849},{"g":1,"x":2.76,"y":0.0849},{"g":1,"x":2.31,"y":0.08},{"g":1,"x":2.76,"y":0.0752},{"g":1,"x":3.3,"y":0.0707},{"g":1,"x":4.13,"y":0.0772},{"g":1,"x":4.72,"y":0.07},{"g":1,"x":5.28,"y":0.0647},{"g":1,"x":2.31,"y":0.0665},{"g":1,"x":2.64,"y":0.0665},{"g":1,"x":3.02,"y":0.0647},{"g":1,"x":2.11,"y":0.0647},{"g":1,"x":2.53,"y":0.0589},{"g":1,"x":2.89,"y":0.0572},{"g":1,"x":2.31,"y":0.0554},{"g":1,"x":4.13,"y":0.0582},{"g":1,"x":2.53,"y":0.0537},{"g":1,"x":2.42,"y":0.0461},{"g":1,"x":2.11,"y":0.0421},{"g":1,"x":2.31,"y":0.0421},{"g":1,"x":2.97,"y":0.0416},{"g":1,"x":2.53,"y":0.0505},{"g":1,"x":3.15,"y":0.0589},{"g":1,"x":3.61,"y":0.0626},{"g":1,"x":3.95,"y":0.205},
{"g":2,"x":2.67,"y":0.47},{"g":2,"x":2.31,"y":0.411},{"g":2,"x":1.88,"y":0.399},{"g":2,"x":3.78,"y":0.334},{"g":2,"x":3.3,"y":0.296},{"g":2,"x":2.53,"y":0.308},{"g":2,"x":1.93,"y":0.305},{"g":2,"x":1.69,"y":0.305},{"g":2,"x":1.35,"y":0.305},{"g":2,"x":1.73,"y":0.27},{"g":2,"x":1.93,"y":0.279},{"g":2,"x":1.55,"y":0.232},{"g":2,"x":1.41,"y":0.225},{"g":2,"x":1.77,"y":0.182},{"g":2,"x":2.02,"y":0.187},{"g":2,"x":1.93,"y":0.166},{"g":2,"x":1.69,"y":0.151},{"g":2,"x":1.48,"y":0.15},{"g":2,"x":1.29,"y":0.156},{"g":2,"x":2.89,"y":0.254},{"g":2,"x":2.42,"y":0.249},{"g":2,"x":3.61,"y":0.262},{"g":2,"x":3.15,"y":0.122},{"g":2,"x":2.82,"y":0.117},{"g":2,"x":2.42,"y":0.119},{"g":2,"x":2.64,"y":0.109},{"g":2,"x":1.77,"y":0.09},{"g":2,"x":1.65,"y":0.0875},{"g":2,"x":1.33,"y":0.0849},{"g":2,"x":1.55,"y":0.0824},{"g":2,"x":1.85,"y":0.08},{"g":2,"x":2.02,"y":0.0849},{"g":2,"x":1.48,"y":0.073},{"g":2,"x":1.77,"y":0.0776},{"g":2,"x":2.31,"y":0.0945},{"g":2,"x":1.55,"y":0.225},
{"g":3,"x":5.3,"y":0.695},{"g":3,"x":13.6,"y":0.642},{"g":3,"x":12.6,"y":0.482},{"g":3,"x":12,"y":0.44},{"g":3,"x":10.9,"y":0.389},{"g":3,"x":9.65,"y":0.356},{"g":3,"x":8.45,"y":0.366},{"g":3,"x":7.38,"y":0.344},{"g":3,"x":8.07,"y":0.315},{"g":3,"x":7.93,"y":0.275},{"g":3,"x":9.25,"y":0.324},{"g":3,"x":7.05,"y":0.366},{"g":3,"x":6.75,"y":0.378},{"g":3,"x":5.65,"y":0.44},{"g":3,"x":13.2,"y":0.452},{"g":3,"x":10.55,"y":0.366},{"g":3,"x":8.83,"y":0.305},{"g":3,"x":7.73,"y":0.296},{"g":3,"x":6.17,"y":0.413},{"g":3,"x":13.8,"y":0.545},{"g":3,"x":9.25,"y":0.378},{"g":3,"x":8.07,"y":0.356},{"g":3,"x":10.1,"y":0.401},
{"g":4,"x":14.2,"y":1.06},{"g":4,"x":15.4,"y":1.01},{"g":4,"x":14.6,"y":0.878},{"g":4,"x":13.5,"y":0.811},{"g":4,"x":14.4,"y":0.886},{"g":4,"x":12.6,"y":0.785},{"g":4,"x":11.3,"y":0.76},{"g":4,"x":9.65,"y":0.715},{"g":4,"x":7.38,"y":0.44},{"g":4,"x":8.45,"y":0.44},{"g":4,"x":9.65,"y":0.44},{"g":4,"x":11.3,"y":0.467},{"g":4,"x":12.1,"y":0.496},{"g":4,"x":6.17,"y":0.389},{"g":4,"x":7.05,"y":0.389},{"g":4,"x":8.07,"y":0.413},{"g":4,"x":9.25,"y":0.401},{"g":4,"x":6.75,"y":0.467},{"g":4,"x":13.2,"y":0.527},{"g":4,"x":11.5,"y":0.56},{"g":4,"x":13.8,"y":0.615},{"g":4,"x":5.4,"y":0.496},{"g":4,"x":5.9,"y":0.413},{"g":4,"x":10.55,"y":0.413},{"g":4,"x":10.1,"y":0.695},{"g":4,"x":8.45,"y":0.653},{"g":4,"x":8.83,"y":0.512},{"g":4,"x":7.73,"y":0.482},{"g":4,"x":7.05,"y":0.512},{"g":4,"x":8.07,"y":0.467},{"g":4,"x":6.17,"y":0.452},{"g":4,"x":10.1,"y":0.467},{"g":4,"x":11.3,"y":0.512},{"g":4,"x":12.6,"y":0.615},
{"g":5,"x":9,"y":1.81},{"g":5,"x":8.55,"y":1.65},{"g":5,"x":5.95,"y":1.59},{"g":5,"x":5.65,"y":1.52},{"g":5,"x":6.47,"y":1.49},{"g":5,"x":7,"y":1.44},{"g":5,"x":7.62,"y":1.4},{"g":5,"x":7.73,"y":1.34},{"g":5,"x":8.52,"y":1.33},{"g":5,"x":11.3,"y":1.48},{"g":5,"x":12.1,"y":1.38},{"g":5,"x":13,"y":1.31},{"g":5,"x":11.15,"y":1.29},{"g":5,"x":8.2,"y":1.26},{"g":5,"x":12.7,"y":1.22},{"g":5,"x":10.25,"y":1.21},{"g":5,"x":11.7,"y":1.17},{"g":5,"x":14.1,"y":1.15},{"g":5,"x":8.25,"y":1.15},{"g":5,"x":4.98,"y":1.17},{"g":5,"x":5.8,"y":1.17},{"g":5,"x":6.33,"y":1.16},{"g":5,"x":6.86,"y":1.13},{"g":5,"x":4.8,"y":1.11},{"g":5,"x":5.13,"y":1.06},{"g":5,"x":8,"y":1.08},{"g":5,"x":10.3,"y":1.1},{"g":5,"x":4.13,"y":1.03},{"g":5,"x":6,"y":1.08},{"g":5,"x":9.1,"y":1.02},{"g":5,"x":6.4,"y":1.01},{"g":5,"x":9.55,"y":0.977},{"g":5,"x":4.47,"y":0.98},{"g":5,"x":8.6,"y":0.977},{"g":5,"x":5.8,"y":1},{"g":5,"x":7,"y":0.955},{"g":5,"x":5.5,"y":0.955},{"g":5,"x":10.8,"y":0.899},{"g":5,"x":12.6,"y":0.894},{"g":5,"x":8.15,"y":0.892},{"g":5,"x":9,"y":0.872},{"g":5,"x":6.75,"y":0.877},{"g":5,"x":4.74,"y":0.866},{"g":5,"x":6.1,"y":0.843},{"g":5,"x":5.47,"y":0.85},{"g":5,"x":7.85,"y":0.832},{"g":5,"x":4.13,"y":0.793},{"g":5,"x":5,"y":0.79},{"g":5,"x":11.9,"y":0.793},{"g":5,"x":10.55,"y":0.799},{"g":5,"x":4.13,"y":0.673},{"g":5,"x":4.4,"y":0.548},{"g":5,"x":5.3,"y":0.569},{"g":5,"x":4.8,"y":0.482},{"g":5,"x":5.65,"y":0.44},{"g":5,"x":6.47,"y":0.482},{"g":5,"x":7.38,"y":0.527},{"g":5,"x":5.4,"y":0.653},{"g":5,"x":6.17,"y":0.715},{"g":5,"x":7.38,"y":0.738},{"g":5,"x":8.83,"y":0.715},{"g":5,"x":10.55,"y":0.695},{"g":5,"x":12.6,"y":0.673},{"g":5,"x":13.8,"y":0.695},{"g":5,"x":13.2,"y":0.579},{"g":5,"x":5.9,"y":0.615},{"g":5,"x":7.05,"y":0.633},{"g":5,"x":8.07,"y":0.615},{"g":5,"x":9.65,"y":0.596},{"g":5,"x":11.5,"y":0.633},{"g":5,"x":7.73,"y":0.545},{"g":5,"x":9.25,"y":0.545},{"g":5,"x":10.55,"y":0.496},{"g":5,"x":8.83,"y":0.467},{"g":5,"x":6.75,"y":0.44},{"g":5,"x":4.93,"y":0.715},{"g":5,"x":4.57,"y":0.785},{"g":5,"x":6.47,"y":0.76},{"g":5,"x":8.45,"y":0.785},{"g":5,"x":10.1,"y":0.785},{"g":5,"x":6.75,"y":0.695},{"g":5,"x":5.9,"y":0.785},{"g":5,"x":7.73,"y":0.673},{"g":5,"x":9.25,"y":0.653},{"g":5,"x":11,"y":0.579},{"g":5,"x":8.45,"y":0.579},{"g":5,"x":6.47,"y":0.56},{"g":5,"x":5.65,"y":0.512},{"g":5,"x":7.05,"y":0.482},{"g":5,"x":5.16,"y":0.615},{"g":5,"x":4.72,"y":0.537},{"g":5,"x":10.1,"y":0.545}
]},
"hconcat":[
{"width":1066,"height":1684,"layer":[
{"data":{"name":"p1"},"mark":{"type":"point","shape":"M0,-34V39M-10,-34H10M-10,39H10M-25,0H23M-25,-10V10M23,-10V10","size":4,"filled":false,"stroke":"black","strokeWidth":5,"opacity":1},
"encoding":{"x":{"field":"x","type":"quantitative","scale":{"type":"log","domain":[0.5,50],"nice":false},"axis":{"orient":"bottom","values":[0.6,0.7,0.8,0.9,1,2,3,4,5,6,7,8,9,10,20,30,40],"labelExpr":"datum.value==1?'1':datum.value==10?'10':''","tickSize":{"condition":{"test":"datum.value===1||datum.value===10","value":-18},"value":-9},"labelFontSize":70,"labelPadding":50,"title":"H₂O (10⁸ counts / 20 sec)","titleFontSize":70,"titleX":521,"titleY":205,"titleBaseline":"alphabetic"}},
"y":{"field":"y","type":"quantitative","scale":{"type":"log","domain":[0.03,3],"nice":false},"axis":{"orient":"left","values":[0.04,0.05,0.06,0.07,0.08,0.09,0.1,0.2,0.3,0.4,0.5,0.6,0.7,0.8,0.9,1,2],"labelExpr":"datum.value==1?'1\u00a0':datum.value==0.1?'0.1':''","tickSize":{"condition":{"test":"datum.value===1||datum.value===0.1","value":-18},"value":-9},"labelFontSize":76,"labelPadding":30,"title":"O₂ (10⁸ counts / 20 sec)","titleFontSize":78,"titleX":-175,"titleY":882,"titleBaseline":"alphabetic"}}}},
{"data":{"name":"p1"},"mark":{"type":"point","shape":"circle","filled":true,"size":1225,"stroke":"black","strokeWidth":1.6,"opacity":1},
"encoding":{"x":{"field":"x","type":"quantitative","axis":{"orient":"top","values":[0.6,0.7,0.8,0.9,1,2,3,4,5,6,7,8,9,10,20,30,40],"labels":false,"title":null,"tickSize":{"condition":{"test":"datum.value===1||datum.value===10","value":-18},"value":-9}}},
"y":{"field":"y","type":"quantitative","axis":{"orient":"right","values":[0.04,0.05,0.06,0.07,0.08,0.09,0.1,0.2,0.3,0.4,0.5,0.6,0.7,0.8,0.9,1,2],"labels":false,"title":null,"tickSize":{"condition":{"test":"datum.value===1||datum.value===0.1","value":-18},"value":-9}}},
"fill":{"field":"g","type":"nominal","scale":{"domain":[1,2,3,4,5,6],"range":["#DDCC77","#117733","#AA4499","#88CCEE","#027489","#CC6677"]},"legend":{"orient":"none","legendX":71,"legendY":45,"title":null,"symbolType":"circle","symbolSize":1024,"symbolStrokeColor":"black","symbolStrokeWidth":1.6,"rowPadding":9,"labelFontSize":43,"labelFont":"Liberation Sans","labelColor":"black","labelOffset":32}}}},
{"data":{"name":"r1"},"mark":{"type":"text","align":"left","baseline":"alphabetic","fontSize":68,"color":"black"},"encoding":{"text":{"field":"label"},"x":{"field":"x","type":"quantitative","axis":null},"y":{"field":"y","type":"quantitative","axis":null}}}
],"resolve":{"axis":{"x":"independent","y":"independent"}}},
{"width":1066,"height":1684,"layer":[
{"data":{"name":"p2"},"mark":{"type":"point","shape":"M0,-34V39M-10,-34H10M-10,39H10M-25,0H23M-25,-10V10M23,-10V10","size":4,"filled":false,"stroke":"black","strokeWidth":5,"opacity":1},
"encoding":{"x":{"field":"x","type":"quantitative","scale":{"type":"log","domain":[0.5,50],"nice":false},"axis":{"orient":"bottom","values":[0.6,0.7,0.8,0.9,1,2,3,4,5,6,7,8,9,10,20,30,40],"labelExpr":"datum.value==1?'1':datum.value==10?'10':''","tickSize":{"condition":{"test":"datum.value===1||datum.value===10","value":-18},"value":-9},"labelFontSize":87,"labelPadding":54,"title":"CO₂ (10⁸ counts / 20 sec)","titleFontSize":70,"titleX":521,"titleY":206,"titleBaseline":"alphabetic"}},
"y":{"field":"y","type":"quantitative","scale":{"type":"log","domain":[0.03,3],"nice":false},"axis":{"orient":"left","values":[0.04,0.05,0.06,0.07,0.08,0.09,0.1,0.2,0.3,0.4,0.5,0.6,0.7,0.8,0.9,1,2],"labels":false,"title":null,"tickSize":{"condition":{"test":"datum.value===1||datum.value===0.1","value":-18},"value":-9}}}}},
{"data":{"name":"p2"},"mark":{"type":"point","shape":"circle","filled":true,"size":1225,"stroke":"black","strokeWidth":1.6,"opacity":1},
"encoding":{"x":{"field":"x","type":"quantitative","axis":{"orient":"top","values":[0.6,0.7,0.8,0.9,1,2,3,4,5,6,7,8,9,10,20,30,40],"labels":false,"title":null,"tickSize":{"condition":{"test":"datum.value===1||datum.value===10","value":-18},"value":-9}}},
"y":{"field":"y","type":"quantitative","axis":{"orient":"right","values":[0.04,0.05,0.06,0.07,0.08,0.09,0.1,0.2,0.3,0.4,0.5,0.6,0.7,0.8,0.9,1,2],"labels":false,"title":null,"tickSize":{"condition":{"test":"datum.value===1||datum.value===0.1","value":-18},"value":-9}}},
"fill":{"field":"g","type":"nominal","scale":{"domain":[1,2,3,4,5,6],"range":["#DDCC77","#117733","#AA4499","#88CCEE","#027489","#CC6677"]},"legend":null}}},
{"data":{"name":"r2"},"mark":{"type":"text","align":"left","baseline":"alphabetic","fontSize":68,"color":"black"},"encoding":{"text":{"field":"label"},"x":{"field":"x","type":"quantitative","axis":null},"y":{"field":"y","type":"quantitative","axis":null}}}
],"resolve":{"axis":{"x":"independent","y":"independent"}}},
{"width":1066,"height":1684,"layer":[
{"data":{"name":"p3"},"mark":{"type":"point","shape":"M0,-34V39M-10,-34H10M-10,39H10M-37,0H35M-37,-10V10M35,-10V10","size":4,"filled":false,"stroke":"black","strokeWidth":5,"opacity":1},
"encoding":{"x":{"field":"x","type":"quantitative","scale":{"type":"log","domain":[0.369,26.9],"nice":false},"axis":{"orient":"bottom","values":[0.4817,0.6,0.7265,0.86,1,2.696,4.817,7.27,10,12.99,16.2,19.6,23.2],"labelExpr":"datum.value==1?'1':datum.value==10?'10':''","tickSize":{"condition":{"test":"datum.value===1||datum.value===10","value":-18},"value":-9},"labelFontSize":87,"labelPadding":54,"title":"CO (10⁸ counts / 20 sec)","titleFontSize":70,"titleX":522,"titleY":209,"titleBaseline":"alphabetic"}},
"y":{"field":"y","type":"quantitative","scale":{"type":"log","domain":[0.03,3],"nice":false},"axis":{"orient":"left","values":[0.04,0.05,0.06,0.07,0.08,0.09,0.1,0.2,0.3,0.4,0.5,0.6,0.7,0.8,0.9,1,2],"labels":false,"title":null,"tickSize":{"condition":{"test":"datum.value===1||datum.value===0.1","value":-18},"value":-9}}}}},
{"data":{"name":"p3"},"mark":{"type":"point","shape":"circle","filled":true,"size":1225,"stroke":"black","strokeWidth":1.6,"opacity":1},
"encoding":{"x":{"field":"x","type":"quantitative","axis":{"orient":"top","values":[0.4817,0.6,0.7265,0.86,1,2.696,4.817,7.27,10,12.99,16.2,19.6,23.2],"labels":false,"title":null,"tickSize":{"condition":{"test":"datum.value===1||datum.value===10","value":-18},"value":-9}}},
"y":{"field":"y","type":"quantitative","axis":{"orient":"right","values":[0.04,0.05,0.06,0.07,0.08,0.09,0.1,0.2,0.3,0.4,0.5,0.6,0.7,0.8,0.9,1,2],"labels":false,"title":null,"tickSize":{"condition":{"test":"datum.value===1||datum.value===0.1","value":-18},"value":-9}}},
"fill":{"field":"g","type":"nominal","scale":{"domain":[1,2,3,4,5,6],"range":["#DDCC77","#117733","#AA4499","#88CCEE","#027489","#CC6677"]},"legend":null}}},
{"data":{"name":"r3"},"mark":{"type":"text","align":"left","baseline":"alphabetic","fontSize":68,"color":"black"},"encoding":{"text":{"field":"label"},"x":{"field":"x","type":"quantitative","axis":null},"y":{"field":"y","type":"quantitative","axis":null}}}
],"resolve":{"axis":{"x":"independent","y":"independent"}}}
]
}
